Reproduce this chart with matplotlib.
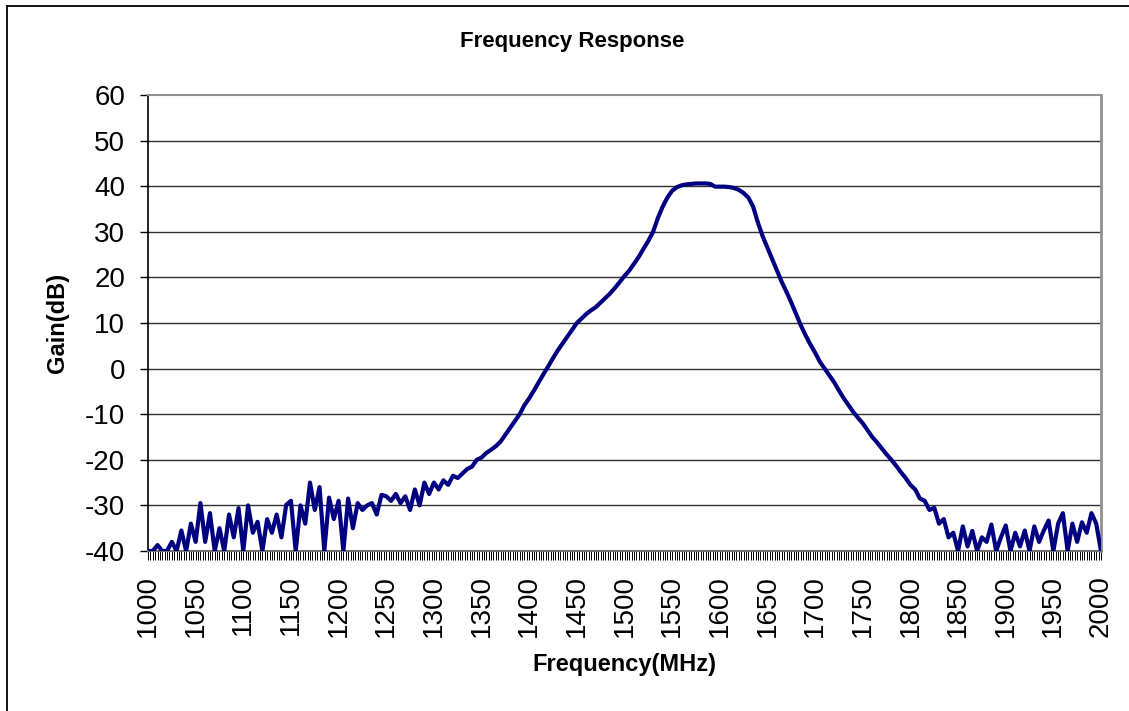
import matplotlib
matplotlib.use("Agg")
import matplotlib.pyplot as plt
import numpy as np
from matplotlib.lines import Line2D

plt.rcParams["font.family"] = ["Liberation Sans", "DejaVu Sans"]

# frequency grid, 5 MHz steps from 1000 to 2000 MHz
freq_start, freq_stop, freq_step = 1000, 2000, 5

# gain in dB, one value per 5 MHz step
gain_db = [
    -40, -40, -38.7, -40, -40, -38, -40, -35.5, -40, -34,            # 1000-1045
    -38, -29.5, -38, -31.7, -40, -35, -40, -32, -37, -30.6,          # 1050-1095
    -40, -30, -36, -33.6, -40, -33, -36, -32, -37, -29.9,            # 1100-1145
    -29, -40, -30, -34, -25, -31, -26, -40, -28.3, -33,              # 1150-1195
    -29, -40, -28.5, -35, -29.5, -31, -30, -29.5, -32, -27.7,        # 1200-1245
    -28, -29, -27.5, -29.5, -28, -31, -26.5, -30, -25, -27.5,        # 1250-1295
    -25, -26.5, -24.5, -25.5, -23.5, -24, -23, -22, -21.5, -20,      # 1300-1345
    -19.5, -18.5, -17.8, -17, -16, -14.5, -13, -11.5, -10, -8,       # 1350-1395
    -6.5, -4.8, -3, -1.2, 0.5, 2.3, 4, 5.5, 7, 8.5,                  # 1400-1445
    10, 11, 12, 12.8, 13.5, 14.5, 15.5, 16.5, 17.7, 19,              # 1450-1495
    20.3, 21.5, 23, 24.5, 26.3, 28, 30, 33, 35.5, 37.5,              # 1500-1545
    39, 39.8, 40.2, 40.4, 40.5, 40.6, 40.6, 40.6, 40.5, 39.9,        # 1550-1595
    39.9, 39.9, 39.8, 39.6, 39.2, 38.5, 37.5, 35.5, 32, 29,          # 1600-1645
    26.5, 24, 21.5, 19, 16.8, 14.5, 12, 9.5, 7.3, 5.3,               # 1650-1695
    3.5, 1.5, 0, -1.5, -3, -4.8, -6.5, -8, -9.5, -10.8,              # 1700-1745
    -12, -13.5, -15, -16.2, -17.5, -18.8, -20, -21.3, -22.7, -24,    # 1750-1795
    -25.5, -26.5, -28.5, -29, -31, -30.5, -34, -33, -37, -36,        # 1800-1845
    -40, -34.6, -39, -35.6, -40, -37, -38, -34.2, -40, -37,          # 1850-1895
    -34.4, -40, -36, -39, -35.5, -40, -34.6, -38, -35.5, -33.3,      # 1900-1945
    -40, -34, -31.7, -40, -34, -38, -33.7, -36, -31.7, -34,          # 1950-1995
    -40,                                                             # 2000
]
freq_mhz = np.arange(freq_start, freq_stop + freq_step, freq_step)

y_ticks = [-40, -30, -20, -10, 0, 10, 20, 30, 40, 50, 60]
x_ticks = list(range(1000, 2001, 50))

fig = plt.figure(figsize=(11.29, 7.11), dpi=100)
ax = fig.add_axes([148 / 1129, 1 - 551 / 711, 953 / 1129, 456 / 711])

ax.plot(freq_mhz, gain_db, color="#000080", lw=3.0, solid_joinstyle="round",
        solid_capstyle="round", zorder=3)

ax.set_xlim(1000, 2000)
ax.set_ylim(-40, 60)
ax.set_yticks(y_ticks)
ax.set_xticks(x_ticks)
ax.set_xticks(np.arange(1000, 2000.1, 2.5), minor=True)
ax.set_xticklabels([str(t) for t in x_ticks], rotation=90, fontsize=20)
ax.set_yticklabels([str(t) for t in y_ticks], fontsize=20)

ax.tick_params(axis="y", direction="out", length=6, width=1, pad=10.5, color="black")
ax.tick_params(axis="x", which="both", direction="out", length=6.5, width=0.7,
               pad=11, color="black")

for y in y_ticks[1:-1]:
    ax.axhline(y, color="#303030", lw=1, zorder=1)

ax.spines["left"].set_color("black")
ax.spines["left"].set_linewidth(1.2)
ax.spines["bottom"].set_color("#707070")
ax.spines["bottom"].set_linewidth(1.5)
ax.spines["top"].set_color("#909090")
ax.spines["top"].set_linewidth(1.5)
ax.spines["right"].set_color("#909090")
ax.spines["right"].set_linewidth(2)

fig.text(572 / 1129, 1 - 42 / 711, "Frequency Response", ha="center", va="center",
         fontsize=16, fontweight="bold")
fig.text(624.5 / 1129, 1 - 664 / 711, "Frequency(MHz)", ha="center", va="center",
         fontsize=17, fontweight="bold")
fig.text(58 / 1129, 1 - 323 / 711, "Gain(dB)", ha="center", va="center",
         rotation=90, fontsize=17, fontweight="bold")

# outer chart border (only left and top edges are inside the crop)
fig.add_artist(Line2D([7 / 1129, 7 / 1129], [0, 1 - 6 / 711], color="black", lw=1.3,
                      transform=fig.transFigure))
fig.add_artist(Line2D([7 / 1129, 1], [1 - 6 / 711, 1 - 6 / 711], color="black", lw=1.3,
                      transform=fig.transFigure))

fig.savefig("out.png", dpi=100)
